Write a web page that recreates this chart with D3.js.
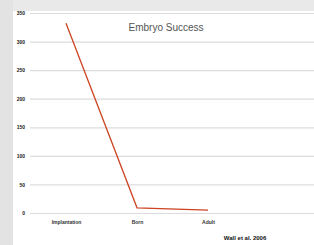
<!DOCTYPE html>
<html>
<head>
<meta charset="utf-8">
<script src="https://cdn.jsdelivr.net/npm/d3@7"></script>
<style>
  body { margin: 0; background: #fff; }
  svg { display: block; font-family: "Liberation Sans", Arial, sans-serif; }
</style>
</head>
<body>
<script>
var stages = ['Implantation', 'Born', 'Adult'];
var embryos = [332, 9, 5];
var yTicks = [0, 50, 100, 150, 200, 250, 300, 350];

var W = 314, H = 245;
var svg = d3.select('body').append('svg').attr('width', W).attr('height', H);

// grey frame strips on the top and left
svg.append('rect').attr('x', 0).attr('y', 0).attr('width', W).attr('height', 11).attr('fill', '#e9e9e9');
svg.append('rect').attr('x', 0).attr('y', 0).attr('width', 13).attr('height', H).attr('fill', '#e3e3e3');

var x = d3.scalePoint().domain(stages).range([66, 208]);
var y = d3.scaleLinear().domain([0, 350]).range([213, 13]);

var yAxis = svg.append('g').attr('transform', 'translate(30,0)')
    .call(d3.axisLeft(y).tickValues(yTicks).tickSize(-284).tickPadding(5).tickFormat(d3.format('d')));
yAxis.select('.domain').remove();
yAxis.selectAll('line').attr('stroke', '#dcdcdc').attr('stroke-width', 1.2);
yAxis.selectAll('text').attr('fill', '#222').style('font-size', '5px').style('font-weight', 'bold');

var xAxis = svg.append('g').attr('transform', 'translate(0,213)')
    .call(d3.axisBottom(x).tickSize(0).tickPadding(7));
xAxis.select('.domain').remove();
xAxis.selectAll('text').attr('fill', '#333').style('font-size', '5px').style('font-weight', 'bold');

var line = d3.line()
    .x(function (d, i) { return x(stages[i]); })
    .y(function (d) { return y(d); });

svg.append('path').datum(embryos)
    .attr('d', line)
    .attr('fill', 'none')
    .attr('stroke', '#cc4422')
    .attr('stroke-width', 1.3);

svg.append('text').attr('x', 166).attr('y', 31).attr('text-anchor', 'middle')
    .attr('fill', '#555').style('font-size', '10px').text('Embryo Success');

svg.append('text').attr('x', 245).attr('y', 240).attr('text-anchor', 'middle')
    .attr('fill', '#111').style('font-size', '6px').style('font-weight', 'bold')
    .text('Wall et al. 2006');
</script>
</body>
</html>
